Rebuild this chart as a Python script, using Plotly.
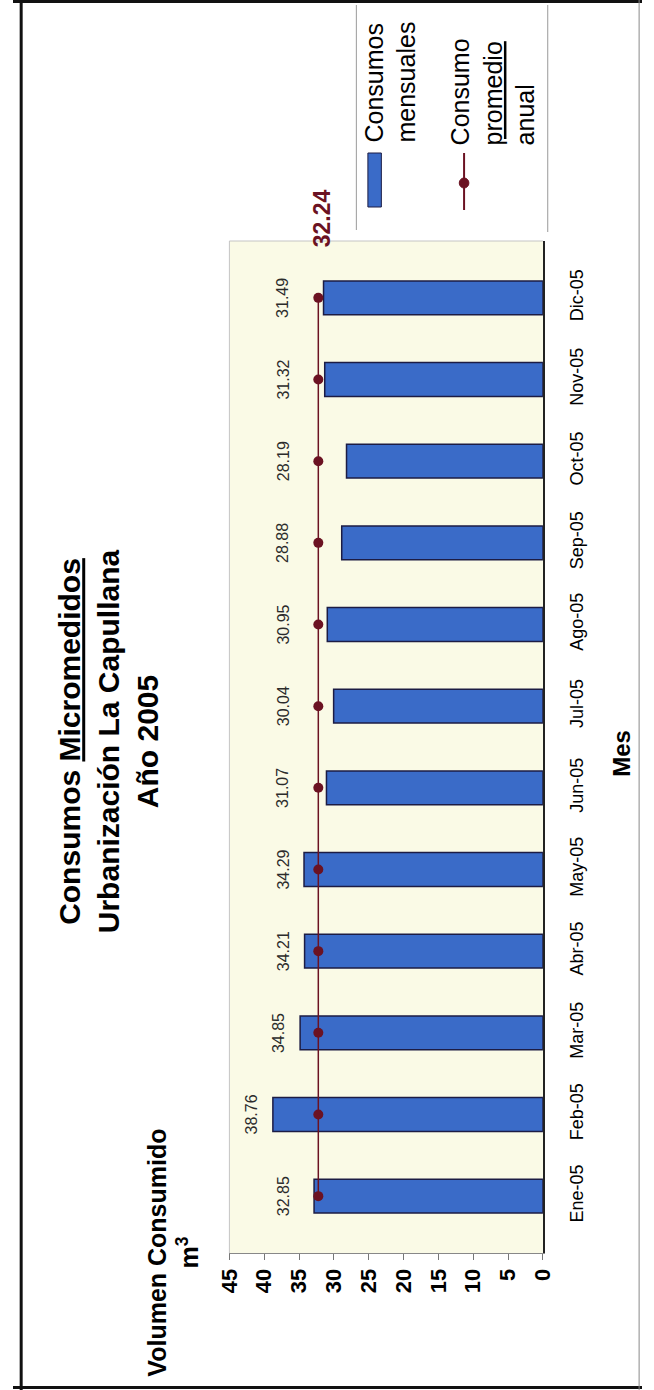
import plotly.graph_objects as go

# Monthly micro-metered consumption, Urbanización La Capullana, 2005
months = ["Ene-05", "Feb-05", "Mar-05", "Abr-05", "May-05", "Jun-05",
          "Jul-05", "Ago-05", "Sep-05", "Oct-05", "Nov-05", "Dic-05"]
consumo = [32.85, 38.76, 34.85, 34.21, 34.29, 31.07,
           30.04, 30.95, 28.88, 28.19, 31.32, 31.49]
promedio = [32.24, 32.24, 32.24, 32.24, 32.24, 32.24,
            32.24, 32.24, 32.24, 32.24, 32.24, 32.24]
value_ticks = [0, 5, 10, 15, 20, 25, 30, 35, 40, 45]

W, H = 654, 1390
FONT = "Liberation Sans, Arial, sans-serif"
BLUE = "#3A6BC8"
MAROON = "#6B1222"


def px(x):
    return x / W


def py(y):
    return 1 - y / H


PL, PR, PT, PB = 225, 551, 241, 1253

fig = go.Figure()

fig.add_trace(go.Bar(
    x=consumo, y=months, orientation="h",
    marker=dict(color=BLUE, line=dict(color="#1C1C44", width=1.5)),
    showlegend=False, hoverinfo="x+y",
))
fig.add_trace(go.Scatter(
    x=promedio, y=months, mode="lines+markers",
    line=dict(color=MAROON, width=1.5),
    marker=dict(color=MAROON, size=10),
    showlegend=False, hoverinfo="x+y",
))

annotations = []

# value labels beside each bar (rotated like the rest of the page)
for m, v in zip(months, consumo):
    annotations.append(dict(
        x=max(v + 3, 37.3), y=m, xref="x", yref="y",
        text=f"{v:.2f}", showarrow=False, textangle=-90,
        font=dict(family=FONT, size=16, color="#2B2B2B"),
        xanchor="center", yanchor="middle",
    ))

# annual average label above the plot
annotations.append(dict(
    x=promedio[-1], y=py(218), xref="x", yref="paper", xshift=4,
    text=f"{promedio[-1]:.2f}", showarrow=False, textangle=-90,
    font=dict(family=FONT, size=23, color=MAROON, weight="bold"),
    xanchor="center", yanchor="middle",
))

# chart title
annotations.append(dict(
    x=px(99), y=py(741), xref="paper", yref="paper",
    text="Consumos <u>Micromedidos</u><br>Urbanización La Capullana<br>Año 2005",
    showarrow=False, textangle=-90, align="center",
    font=dict(family=FONT, size=30, color="black", weight="bold"),
    xanchor="center", yanchor="middle",
))

# value axis title
annotations.append(dict(
    x=px(166), y=py(1253), xref="paper", yref="paper",
    text="Volumen Consumido<br>m<sup>3</sup>",
    showarrow=False, textangle=-90, align="center",
    font=dict(family=FONT, size=25, color="black", weight="bold"),
    xanchor="center", yanchor="middle",
))

# category axis title
annotations.append(dict(
    x=px(632), y=py(753), xref="paper", yref="paper",
    text="Mes", showarrow=False, textangle=-90,
    font=dict(family=FONT, size=24, color="black", weight="bold"),
    xanchor="center", yanchor="middle",
))

# legend texts
annotations.append(dict(
    x=px(392), y=py(145), xref="paper", yref="paper",
    text="Consumos<br>mensuales", showarrow=False, textangle=-90, align="left",
    font=dict(family=FONT, size=25, color="black"),
    xanchor="center", yanchor="bottom",
))
annotations.append(dict(
    x=px(499), y=py(147), xref="paper", yref="paper",
    text="Consumo<br><u>promedio</u><br>anual", showarrow=False, textangle=-90,
    align="left",
    font=dict(family=FONT, size=25, color="black"),
    xanchor="center", yanchor="bottom",
))

shapes = [
    # plot area border (top and left)
    dict(type="line", xref="paper", yref="paper", x0=px(PL), x1=px(PR),
         y0=py(PT), y1=py(PT), line=dict(color="#C4C4C4", width=1)),
    dict(type="line", xref="paper", yref="paper", x0=px(PL), x1=px(PL),
         y0=py(PT), y1=py(PB), line=dict(color="#C4C4C4", width=1)),
    # legend box sides
    dict(type="line", xref="paper", yref="paper", x0=px(357), x1=px(357),
         y0=py(5), y1=py(230), line=dict(color="#9A9A9A", width=1)),
    dict(type="line", xref="paper", yref="paper", x0=px(556), x1=px(556),
         y0=py(5), y1=py(232), line=dict(color="#9A9A9A", width=1)),
    # legend swatch for the bars
    dict(type="rect", xref="paper", yref="paper", x0=px(369), x1=px(383),
         y0=py(207), y1=py(153), fillcolor=BLUE,
         line=dict(color="#1C1C44", width=1)),
    # legend sample for the average line
    dict(type="line", xref="paper", yref="paper", x0=px(469), x1=px(469),
         y0=py(153), y1=py(210), line=dict(color=MAROON, width=2)),
    dict(type="circle", xref="paper", yref="paper", x0=px(464), x1=px(474),
         y0=py(188), y1=py(178), fillcolor=MAROON,
         line=dict(color=MAROON, width=1)),
    # outer frame
    dict(type="line", xref="paper", yref="paper", x0=px(8.5), x1=px(8.5),
         y0=py(0), y1=py(1390), line=dict(color="#111111", width=3)),
    dict(type="line", xref="paper", yref="paper", x0=px(0), x1=px(654),
         y0=py(1.5), y1=py(1.5), line=dict(color="#111111", width=3)),
    dict(type="line", xref="paper", yref="paper", x0=px(0), x1=px(654),
         y0=py(1387.5), y1=py(1387.5), line=dict(color="#111111", width=3)),
    dict(type="line", xref="paper", yref="paper", x0=px(651), x1=px(651),
         y0=py(0), y1=py(1390), line=dict(color="#8A8A8A", width=1)),
]

fig.update_layout(
    width=W, height=H,
    margin=dict(l=0, r=0, t=0, b=0),
    paper_bgcolor="white",
    plot_bgcolor="#FAFAE6",
    bargap=0.585,
    showlegend=False,
    font=dict(family=FONT, color="black"),
    xaxis=dict(
        domain=[px(PL), px(PR)], range=[45, 0],
        tickmode="array", tickvals=value_ticks,
        ticktext=[str(t) for t in value_ticks],
        tickangle=-90, tickfont=dict(family=FONT, size=22, weight="bold"),
        ticks="outside", ticklen=6, tickcolor="#777777",
        showline=True, linecolor="#888888", linewidth=1,
        showgrid=False, zeroline=False,
    ),
    yaxis=dict(
        domain=[py(PB), py(PT)], side="right",
        categoryorder="array", categoryarray=months,
        tickangle=-90, tickfont=dict(family=FONT, size=18),
        ticks="", ticklabelstandoff=16,
        showline=True, linecolor="#222222", linewidth=2,
        showgrid=False, zeroline=False,
    ),
    annotations=annotations,
    shapes=shapes,
)

fig.write_html("out.html")
